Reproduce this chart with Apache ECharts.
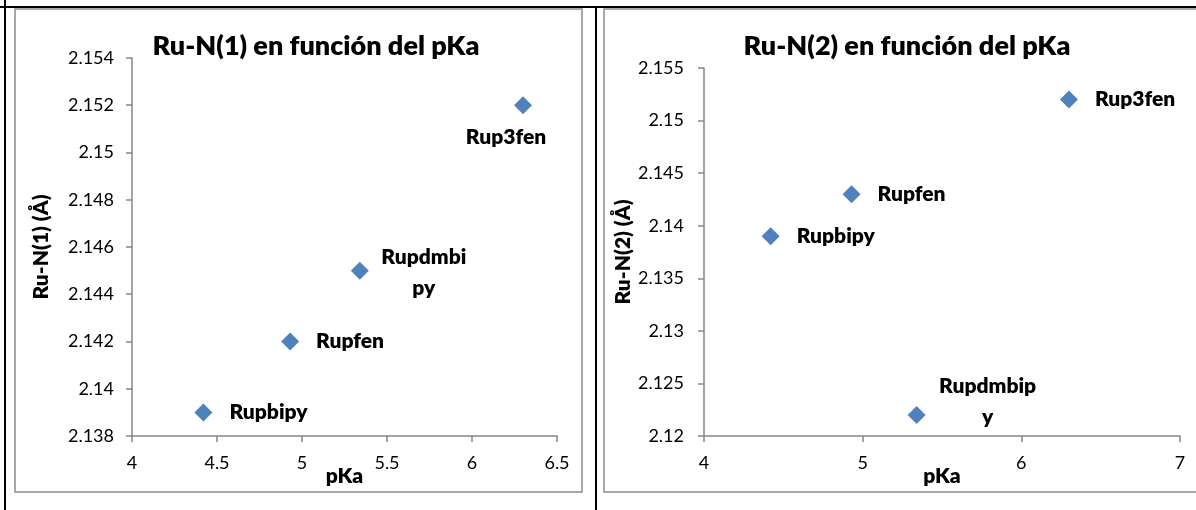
<!DOCTYPE html>
<html>
<head>
<meta charset="utf-8">
<script src="https://cdn.jsdelivr.net/npm/echarts@6/dist/echarts.min.js"></script>
<style>
  html, body { margin: 0; padding: 0; background: #fff; }
  #chart { width: 1196px; height: 510px; }
</style>
</head>
<body>
<div id="chart"></div>
<script>
// Complexes and their pKa values
const complexes = ['Rupbipy', 'Rupfen', 'Rupdmbipy', 'Rup3fen'];
const pKa = [4.42, 4.93, 5.34, 6.30];
// Ru–N bond lengths (Å)
const ruN1 = [2.139, 2.142, 2.145, 2.152];
const ruN2 = [2.139, 2.143, 2.122, 2.152];
// Label text as it wraps in each panel
const labelsN1 = ['Rupbipy', 'Rupfen', 'Rupdmbi\npy', 'Rup3fen'];
const labelsN2 = ['Rupbipy', 'Rupfen', 'Rupdmbip\ny', 'Rup3fen'];

// Where each data label sits relative to its marker
const placeN1 = [
  { position: 'right', distance: 17 },
  { position: 'right', distance: 17 },
  { position: 'inside', offset: [64, 2] },
  { position: 'inside', offset: [-17, 32] }
];
const placeN2 = [
  { position: 'right', distance: 17 },
  { position: 'right', distance: 17 },
  { position: 'inside', offset: [71, -13] },
  { position: 'right', distance: 17 }
];

const FONT = 'Lato, "Open Sans", sans-serif';
const BOLD = 800;
const MARK = '#4F81BD';
const AXIS = '#868686';
const TEXT = '#000';

function points(ys, labels, place) {
  return pKa.map((x, i) => ({
    name: complexes[i],
    value: [x, ys[i]],
    label: Object.assign({
      show: true,
      formatter: labels[i],
      fontFamily: FONT,
      fontWeight: BOLD,
      fontSize: 21,
      lineHeight: 31,
      color: TEXT,
      opacity: 1,
      align: 'center'
    }, place[i].position === 'right' ? { align: 'left' } : {}, place[i])
  }));
}

function xAxis(gridIndex, min, max, interval) {
  return {
    type: 'value', gridIndex, min, max, interval,
    name: 'pKa', nameLocation: 'middle', nameGap: 30, nameMoveOverlap: false,
    nameTextStyle: { fontFamily: FONT, fontWeight: BOLD, fontSize: 21, color: TEXT },
    axisLine: { lineStyle: { color: AXIS, width: 1.5 } },
    axisTick: { show: true, length: 6, lineStyle: { color: AXIS, width: 1.5 } },
    axisLabel: { fontFamily: FONT, fontSize: 18, color: TEXT, margin: 18 },
    splitLine: { show: false }
  };
}

function yAxis(gridIndex, name, min, max, interval, gap, margin) {
  return {
    type: 'value', gridIndex, min, max, interval,
    name, nameLocation: 'middle', nameGap: gap,
    nameTextStyle: { fontFamily: FONT, fontWeight: BOLD, fontSize: 21, color: TEXT },
    axisLine: { show: true, lineStyle: { color: AXIS, width: 1.5 } },
    axisTick: { show: true, length: 6, lineStyle: { color: AXIS, width: 1.5 } },
    axisLabel: {
      fontFamily: FONT, fontSize: 18, color: TEXT, margin,
      formatter: v => String(+v.toFixed(3))
    },
    splitLine: { show: false }
  };
}

const chart = echarts.init(document.getElementById('chart'), null, { renderer: 'canvas' });

chart.setOption({
  backgroundColor: '#fff',
  animation: false,
  title: [
    {
      text: 'Ru-N(1) en función del pKa', left: 311, top: 28, textAlign: 'center',
      textStyle: { fontFamily: FONT, fontWeight: BOLD, fontSize: 27, color: TEXT }
    },
    {
      text: 'Ru-N(2) en función del pKa', left: 902, top: 28, textAlign: 'center',
      textStyle: { fontFamily: FONT, fontWeight: BOLD, fontSize: 27, color: TEXT }
    }
  ],
  graphic: [
    { type: 'rect', z: 0, shape: { x: 15, y: 9, width: 567, height: 483 },
      style: { fill: 'none', stroke: '#8c8c8c', lineWidth: 1.5 } },
    { type: 'rect', z: 0, shape: { x: 604, y: 9, width: 620, height: 483 },
      style: { fill: 'none', stroke: '#8c8c8c', lineWidth: 1.5 } },
    { type: 'line', z: 1, shape: { x1: 0, y1: 7, x2: 1196, y2: 7 },
      style: { stroke: '#000', lineWidth: 2 } },
    { type: 'line', z: 1, shape: { x1: 5, y1: 0, x2: 5, y2: 510 },
      style: { stroke: '#000', lineWidth: 2 } },
    { type: 'line', z: 1, shape: { x1: 596, y1: 7, x2: 596, y2: 510 },
      style: { stroke: '#000', lineWidth: 2 } }
  ],
  grid: [
    { left: 132, top: 58, width: 425, height: 378 },
    { left: 704, top: 68, width: 476, height: 368 }
  ],
  xAxis: [
    xAxis(0, 4, 6.5, 0.5),
    xAxis(1, 4, 7, 1)
  ],
  yAxis: [
    yAxis(0, 'Ru-N(1) (Å)', 2.138, 2.154, 0.002, 80, 18),
    yAxis(1, 'Ru-N(2) (Å)', 2.12, 2.155, 0.005, 69, 20)
  ],
  series: [
    {
      type: 'scatter', xAxisIndex: 0, yAxisIndex: 0,
      symbol: 'diamond', symbolSize: 18,
      itemStyle: { color: MARK, opacity: 1 },
      data: points(ruN1, labelsN1, placeN1)
    },
    {
      type: 'scatter', xAxisIndex: 1, yAxisIndex: 1,
      symbol: 'diamond', symbolSize: 18,
      itemStyle: { color: MARK, opacity: 1 },
      data: points(ruN2, labelsN2, placeN2)
    }
  ]
});
</script>
</body>
</html>
